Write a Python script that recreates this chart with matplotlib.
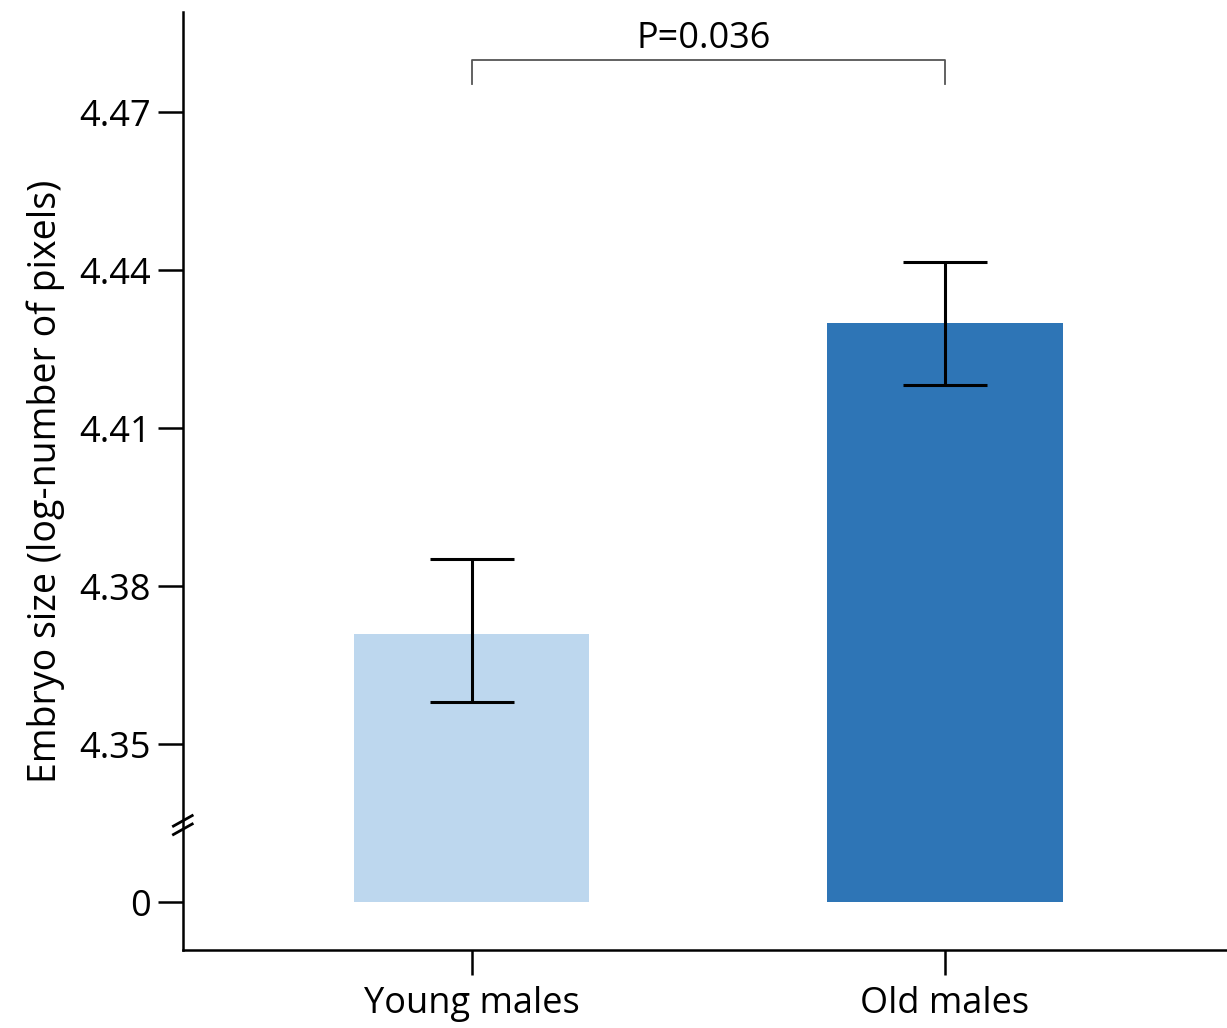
import matplotlib
matplotlib.use("Agg")
from matplotlib import pyplot as plt

plt.rcParams['font.family'] = ['Open Sans', 'DejaVu Sans']

# Data
groups = ["Young males", "Old males"]
means = [4.371, 4.430]
err_low = [0.0129, 0.0117]
err_high = [0.0143, 0.0116]
colors = ["#bdd7ee", "#2e75b6"]
p_label = "P=0.036"

# broken axis: the "0" tick sits where 4.32 would be
base = 4.32
tick_vals = [base, 4.35, 4.38, 4.41, 4.44, 4.47]
tick_labels = ["0", "4.35", "4.38", "4.41", "4.44", "4.47"]

fig = plt.figure(figsize=(12.27, 10.28), dpi=100)
ax = fig.add_axes([0.149, 0.076, 0.851, 0.912])

x = [0, 1]
heights = [m - base for m in means]
ax.bar(x, heights, bottom=base, width=0.497, color=colors, zorder=2)
ax.errorbar(x, means, yerr=[err_low, err_high], fmt="none", ecolor="black",
            elinewidth=2.2, capsize=30, capthick=2.2, zorder=3)

ax.set_xlim(-0.611, 1.596)
ax.set_ylim(4.311, 4.489)
ax.set_yticks(tick_vals)
ax.set_yticklabels(tick_labels)
ax.set_xticks(x)
ax.set_xticklabels(groups)
ax.tick_params(axis="both", labelsize=26, length=18, width=1.8, pad=5)
ax.tick_params(axis="x", pad=8)

for s in ["top", "right"]:
    ax.spines[s].set_visible(False)
for s in ["left", "bottom"]:
    ax.spines[s].set_linewidth(1.8)

ax.set_ylabel("Embryo size (log-number of pixels)", fontsize=27, labelpad=10)

# axis break marks on left spine
yb = 4.3347
trans = ax.get_yaxis_transform()
for dy in (-0.0008, 0.0008):
    ax.plot([-0.009, 0.009], [yb + dy - 0.001, yb + dy + 0.001], color="black",
            lw=2, transform=trans, clip_on=False, zorder=5)

# significance bracket
yh = 4.4799
yl = 4.4753
ax.plot([0, 0, 1, 1], [yl, yh, yh, yl], color="#555555", lw=1.3, zorder=4)
ax.text(0.49, yh + 0.0006, p_label, ha="center", va="bottom", fontsize=26)

fig.savefig("out.png", dpi=100)
